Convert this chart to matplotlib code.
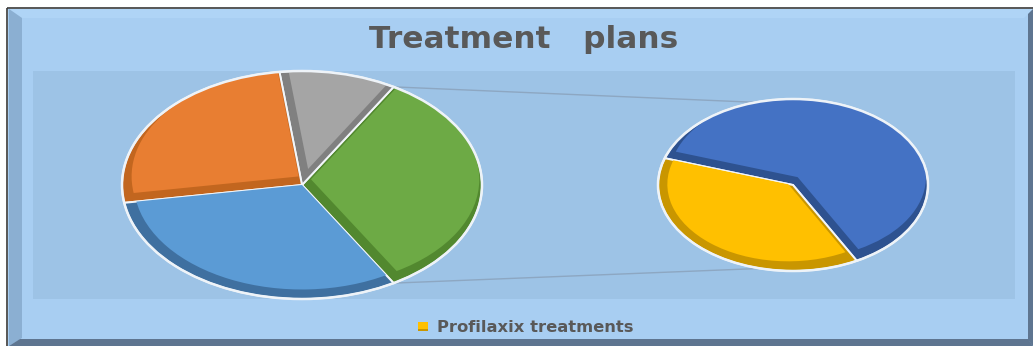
import numpy as np
import matplotlib
matplotlib.use("Agg")
import matplotlib.pyplot as plt
from matplotlib.patches import Polygon, Rectangle, Wedge, Circle

# ---- data -------------------------------------------------------------
# main pie: share of each treatment group (the first value is the group
# that is broken out into the secondary pie)
main_values = [33.0, 10.5, 25.5, 31.0]
main_colors = ["#6DAA45", "#A5A5A5", "#E87E32", "#5B9BD5"]
main_shades = ["#52882F", "#808080", "#C2661F", "#3F70A0"]

# secondary pie: breakdown of the first main slice
sub_values = [20.5, 12.5]
sub_colors = ["#4472C4", "#FFC000"]
sub_shades = ["#2E5290", "#C99600"]

title_text = "Treatment   plans"
legend_label = "Profilaxix treatments"

# ---- figure -----------------------------------------------------------
W, H = 1033, 346
fig = plt.figure(figsize=(W / 100, H / 100), dpi=100)
fig.patch.set_facecolor("white")

bg = fig.add_axes([0, 0, 1, 1])
bg.set_xlim(0, W)
bg.set_ylim(H, 0)
bg.axis("off")

# chart frame with bevelled edges
bg.add_patch(Rectangle((8, 9), 1025, 337, facecolor="#A8CEF2", edgecolor="none"))
bg.add_patch(Polygon([(9, 9), (1033, 9), (1024, 18), (22, 18)], closed=True,
                     facecolor="#AFD4F6", edgecolor="none"))
bg.add_patch(Polygon([(9, 9), (22, 18), (22, 338), (9, 346)], closed=True,
                     facecolor="#8BAFD2", edgecolor="none"))
bg.add_patch(Polygon([(1028, 14), (1033, 9), (1033, 346), (1028, 340)], closed=True,
                     facecolor="#5E7590", edgecolor="none"))
bg.add_patch(Polygon([(9, 346), (20, 339), (1028, 339), (1033, 346)], closed=True,
                     facecolor="#5E7590", edgecolor="none"))
bg.plot([7, 1033], [8, 8], color="#3a3a3a", lw=1.2, solid_capstyle="butt")
bg.plot([7, 7], [8, 346], color="#3a3a3a", lw=1.2, solid_capstyle="butt")

# plot area
bg.add_patch(Rectangle((33, 71), 982, 228, facecolor="#9DC3E6", edgecolor="none"))

# title
bg.text(524, 39, title_text, ha="center", va="center", fontsize=22.5,
        fontweight="bold", family="DejaVu Sans", color="#595959")

# legend
bg.add_patch(Rectangle((418, 322), 10, 9, facecolor="#FFC000", edgecolor="none"))
bg.add_patch(Rectangle((418, 328.5), 10, 2.5, facecolor="#C99600", edgecolor="none"))
bg.text(437, 327, legend_label, ha="left", va="center", fontsize=11.8,
        fontweight="bold", family="DejaVu Sans", color="#595959")


def ellipse_axes(cx, cy, rx, ry, pad=1.12):
    """Axes in which the unit circle lands on the given pixel ellipse."""
    ax = fig.add_axes([(cx - rx * pad) / W, (H - cy - ry * pad) / H,
                       2 * rx * pad / W, 2 * ry * pad / H])
    ax.set_facecolor("none")
    return ax


def bevel_pie(ax, values, colors, shades, startangle, band=0.03,
              shift=(0.015, 0.05)):
    wedges, _ = ax.pie(values, colors=shades, startangle=startangle,
                       counterclock=True, radius=1.0,
                       wedgeprops=dict(edgecolor="#F2F6FA", linewidth=1.4))
    for w, c in zip(wedges, colors):
        t1, t2 = w.theta1, w.theta2
        half = np.radians((t2 - t1) / 2.0)
        mid = np.radians((t1 + t2) / 2.0)
        u = np.array([np.cos(mid), np.sin(mid)])
        if half < np.pi / 2:
            # shrink about the slice's inscribed-circle centre
            sa = np.sin(half)
            d = 1.0 / (1 + sa)
            r_in = sa / (1 + sa)
            s = max(1 - band / r_in, 0.5)
            apex = d * u * (1 - s)
            rad = s
        else:
            # reflex slice: slide the apex along the bisector
            apex = u * band / np.sin(half)
            rad = 1 - band
        apex = apex + np.array(shift)
        inner = Wedge(apex, rad, t1, t2, facecolor=c, edgecolor="none")
        inner.set_clip_path(w)
        ax.add_patch(inner)
    ax.add_patch(Circle((0, 0), 1.0, facecolor="none", edgecolor="#EEF3F8",
                        lw=1.8))
    pad = 1.12
    ax.set_xlim(-pad, pad)
    ax.set_ylim(-pad, pad)
    ax.set_aspect("auto")
    ax.axis("off")
    return wedges


# geometry of the two ellipses (pixels)
L = dict(cx=302, cy=185, rx=180, ry=114)
R = dict(cx=793, cy=185, rx=135, ry=86)

start_main = -main_values[0] / sum(main_values) * 360 / 2
ax1 = ellipse_axes(**L)
main_w = bevel_pie(ax1, main_values, main_colors, main_shades, start_main)

ax2 = ellipse_axes(**R)
sub_w = bevel_pie(ax2, sub_values, sub_colors, sub_shades, -61.8,
                  band=0.05, shift=(0.0, 0.05))

# connector lines from the broken-out slice to the secondary pie
a_top = np.radians(main_w[0].theta2)
a_bot = np.radians(main_w[0].theta1)
p_top = (L["cx"] + L["rx"] * np.cos(a_top), L["cy"] - L["ry"] * np.sin(a_top))
p_bot = (L["cx"] + L["rx"] * np.cos(a_bot), L["cy"] - L["ry"] * np.sin(a_bot))
b_top, b_bot = np.radians(106), np.radians(-104)
q_top = (R["cx"] + R["rx"] * np.cos(b_top), R["cy"] - R["ry"] * np.sin(b_top))
q_bot = (R["cx"] + R["rx"] * np.cos(b_bot), R["cy"] - R["ry"] * np.sin(b_bot))
for p, q in ((p_top, q_top), (p_bot, q_bot)):
    bg.plot([p[0], q[0]], [p[1], q[1]], color="#8DA7C2", lw=1.0, zorder=1)

fig.savefig("out.png", dpi=100)
